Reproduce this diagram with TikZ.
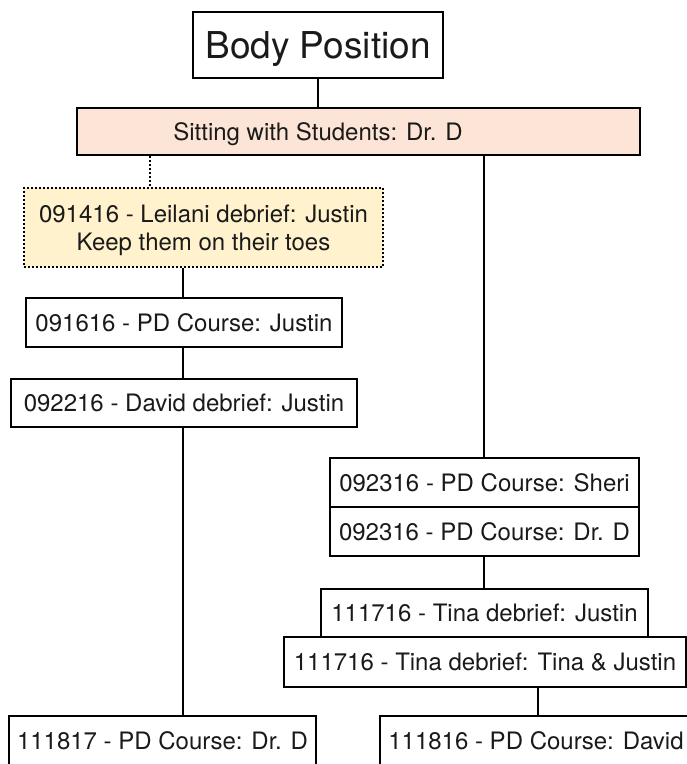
\documentclass[tikz,border=0pt]{standalone}
\usepackage{fontspec}
\setmainfont{TeX Gyre Heros}
\definecolor{pinkfill}{HTML}{FCE4D6}
\definecolor{yellowfill}{HTML}{FFF2CC}
\definecolor{inkgray}{HTML}{1A1A1A}
\begin{document}
\begin{tikzpicture}[x=1pt,y=-1pt,
  box/.style={draw=black, line width=2pt, rectangle, inner sep=0pt, fill=white,
    font=\fontsize{24}{28}\selectfont, text=inkgray, text height=17pt, text depth=0pt},
  bigbox/.style={box, font=\fontsize{37}{44}\selectfont, text height=27pt},
  notebox/.style={box, fill=yellowfill, dotted, align=center, text height=45pt},
  plaintext/.style={inner sep=0pt, font=\fontsize{24}{28}\selectfont, text=inkgray,
    text height=17pt, text depth=0pt},
  link/.style={draw=black, line width=2pt},
  dotlink/.style={link, dotted}
]
\useasboundingbox (0,0) rectangle (687,764);
\clip (0,0) rectangle (687,764);
\fill[white] (0,0) rectangle (687,764);

% title and main category
\node[bigbox, minimum width=250pt, minimum height=66pt] (body) at (318,45) {Body Position};
\node[box, fill=pinkfill, minimum width=563pt, minimum height=47pt] (sit) at (358.5,131.5) {};
\node[plaintext] (sittext) at (318,131.5) {Sitting with Students: Dr. D};

% left branch
\node[notebox, minimum width=359pt, minimum height=79pt] (leilani) at (203.5,227.5)
  {091416 - Leilani debrief: Justin\\Keep them on their toes};
\node[box, minimum width=316pt, minimum height=49pt] (pd1) at (184,322.5) {091616 - PD Course: Justin};
\node[box, minimum width=346pt, minimum height=48pt] (dd) at (184,403) {092216 - David debrief: Justin};
\node[box, minimum width=307pt, minimum height=50pt] (pdl) at (162.5,741) {111817 - PD Course: Dr. D};

% right branch
\node[box, minimum width=309pt, minimum height=49pt] (sheri) at (484.5,482.5) {092316 - PD Course: Sheri};
\node[box, minimum width=309pt, minimum height=49pt] (drd) at (484.5,531.5) {092316 - PD Course: Dr. D};
\node[box, minimum width=327pt, minimum height=48pt] (tj) at (484.5,613) {111716 - Tina debrief: Justin};
\node[box, minimum width=402pt, minimum height=50pt] (ttj) at (485,662) {111716 - Tina debrief: Tina \& Justin};
\node[box, minimum width=312pt, minimum height=50pt] (david) at (536,741) {111816 - PD Course: David};

% connector columns
\coordinate (leftx) at (150,0);
\coordinate (midx) at (183,0);
\coordinate (rightx) at (484,0);
\coordinate (farx) at (538,0);

\draw[link] (body.south) -- (sit.north -| body.south);
\draw[dotlink] (sit.south -| leftx) -- (leilani.north -| leftx);
\draw[link] (leilani.south -| midx) -- (pd1.north -| midx);
\draw[link] (pd1.south -| midx) -- (dd.north -| midx);
\draw[link] (dd.south -| midx) -- (pdl.north -| midx);
\draw[link] (sit.south -| rightx) -- (sheri.north -| rightx);
\draw[link] (drd.south -| rightx) -- (tj.north -| rightx);
\draw[link] (ttj.south -| farx) -- (david.north -| farx);
\end{tikzpicture}
\end{document}
